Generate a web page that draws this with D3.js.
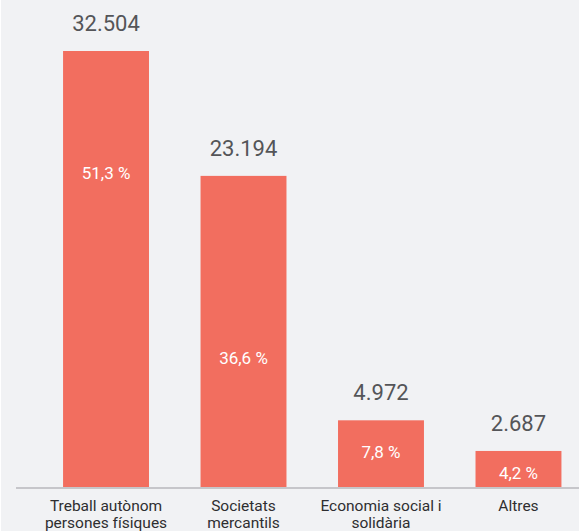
<!DOCTYPE html>
<html>
<head>
<meta charset="utf-8">
<script src="https://cdn.jsdelivr.net/npm/d3@7"></script>
<style>
  body { margin: 0; background: #fff; }
  svg { display: block; }
</style>
</head>
<body>
<svg id="chart" width="579" height="531"></svg>
<script>
var categories = [["Treball autònom", "persones físiques"], ["Societats", "mercantils"], ["Economia social i", "solidària"], ["Altres"]];
var values = [32504, 23194, 4972, 2687];
var percents = ["51,3 %", "36,6 %", "7,8 %", "4,2 %"];

// where the percent label sits, as a share of the bar height measured from the top
var pctAt = [0.28, 0.585, 0.48, 0.6];

var W = 579, H = 531;
var svg = d3.select("#chart");

svg.append("rect")
    .attr("x", 1).attr("y", 0)
    .attr("width", W - 1).attr("height", H)
    .attr("fill", "#f1f2f4");

var x = d3.scaleBand()
    .domain(d3.range(values.length))
    .range([11.5, 613])
    .paddingInner(0.375)
    .paddingOuter(0.375);

var y = d3.scaleLinear()
    .domain([0, 32504])
    .range([487, 51]);

var fmt = function(v){ return d3.format(",")(v).replace(/,/g, "."); };

var g = svg.selectAll("g.bar")
    .data(values)
    .enter().append("g")
    .attr("class", "bar");

g.append("rect")
    .attr("x", function(d, i){ return x(i); })
    .attr("y", function(d){ return y(d); })
    .attr("width", x.bandwidth())
    .attr("height", function(d){ return y(0) - y(d); })
    .attr("fill", "#f26e5f");

g.append("text")
    .attr("x", function(d, i){ return x(i) + x.bandwidth() / 2; })
    .attr("y", function(d){ return y(d) - 20; })
    .attr("text-anchor", "middle")
    .attr("fill", "#545558")
    .style("font-family", "Roboto")
    .style("font-size", "22px")
    .text(function(d){ return fmt(d); });

g.append("text")
    .attr("x", function(d, i){ return x(i) + x.bandwidth() / 2; })
    .attr("y", function(d, i){ return y(d) + (y(0) - y(d)) * pctAt[i] + 6; })
    .attr("text-anchor", "middle")
    .attr("fill", "#ffffff")
    .style("font-family", "Roboto")
    .style("font-size", "17px")
    .text(function(d, i){ return percents[i]; });

svg.append("line")
    .attr("x1", 16).attr("x2", W)
    .attr("y1", 488).attr("y2", 488)
    .attr("stroke", "#c6c6ca")
    .attr("stroke-width", 2);

var lab = svg.selectAll("text.cat")
    .data(categories)
    .enter().append("text")
    .attr("class", "cat")
    .attr("text-anchor", "middle")
    .attr("fill", "#2e2e30")
    .style("font-family", "Roboto")
    .style("font-size", "15.5px");

lab.selectAll("tspan")
    .data(function(d, i){ return d.map(function(t){ return {t: t, i: i}; }); })
    .enter().append("tspan")
    .attr("x", function(d){ return x(d.i) + x.bandwidth() / 2; })
    .attr("y", function(d, j){ return 511 + j * 17; })
    .text(function(d){ return d.t; });
</script>
</body>
</html>
